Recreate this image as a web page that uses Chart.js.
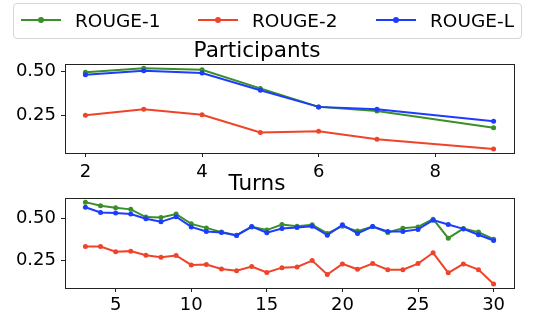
<!DOCTYPE html>
<html>
<head>
<meta charset="utf-8">
<script src="https://cdn.jsdelivr.net/npm/chart.js@4/dist/chart.umd.min.js"></script>
<style>
  body { margin: 0; background: #fff; font-family: 'DejaVu Sans', sans-serif; }
  #wrap { position: relative; width: 550px; height: 316px; overflow: hidden; }
  .cv { position: absolute; left: 0; }
  #legend {
    position: absolute; left: 13px; top: 3px; width: 507px; height: 34px;
    border: 1px solid #d6d6d6; border-radius: 4px; background: rgba(255,255,255,0.8);
    font-size: 18.5px; color: #000;
  }
  .item { position: absolute; top: 0; height: 34px; line-height: 34px; white-space: nowrap; }
  .swatch { position: absolute; top: 15px; width: 40px; height: 2px; }
  .swatch i { position: absolute; left: 17px; top: -2px; width: 6px; height: 6px; border-radius: 50%; }
</style>
</head>
<body>
<div id="wrap">
  <canvas id="partChart" class="cv" style="top:30px" width="550" height="150"></canvas>
  <canvas id="turnChart" class="cv" style="top:160px" width="550" height="156"></canvas>
  <div id="legend"></div>
</div>
<script>
// series labels & colours
const SERIES     = ['ROUGE-1', 'ROUGE-2', 'ROUGE-L'];
const COLORS     = ['#3a8f2a', '#f0442a', '#1c3cff'];

// Participants subplot
const partX      = [2, 3, 4, 5, 6, 7, 9];
const partR1     = [0.494, 0.517, 0.508, 0.402, 0.297, 0.273, 0.179];
const partR2     = [0.250, 0.284, 0.252, 0.152, 0.158, 0.113, 0.058];
const partRL     = [0.479, 0.502, 0.489, 0.391, 0.297, 0.284, 0.216];
const partXTicks = [2, 4, 6, 8];
const partYTicks = [0.25, 0.50];

// Turns subplot
const turnX      = [3, 4, 5, 6, 7, 8, 9, 10, 11, 12, 13, 14, 15, 16, 17, 18, 19, 20, 21, 22, 23, 24, 25, 26, 27, 28, 29, 30];
const turnR1     = [0.597, 0.575, 0.563, 0.554, 0.508, 0.506, 0.526, 0.468, 0.444, 0.419, 0.401, 0.450, 0.431, 0.464,
                    0.454, 0.462, 0.411, 0.454, 0.425, 0.452, 0.417, 0.442, 0.450, 0.496, 0.383, 0.440, 0.419, 0.377];
const turnR2     = [0.333, 0.333, 0.302, 0.306, 0.282, 0.270, 0.280, 0.224, 0.226, 0.200, 0.189, 0.214, 0.179, 0.208,
                    0.212, 0.250, 0.167, 0.230, 0.198, 0.232, 0.196, 0.196, 0.232, 0.296, 0.177, 0.230, 0.196, 0.111];
const turnRL     = [0.567, 0.536, 0.532, 0.526, 0.498, 0.480, 0.510, 0.450, 0.423, 0.417, 0.399, 0.452, 0.415, 0.440,
                    0.446, 0.454, 0.401, 0.462, 0.411, 0.452, 0.423, 0.423, 0.435, 0.490, 0.464, 0.438, 0.403, 0.369];
const turnXTicks = [5, 10, 15, 20, 25, 30];
const turnYTicks = [0.25, 0.50];

Chart.defaults.font.family = "'DejaVu Sans', sans-serif";
Chart.defaults.color = '#000';
Chart.defaults.animation = false;

// box around the plot area, like matplotlib spines
const frame = {
  id: 'frame',
  afterDraw(chart) {
    const { ctx, chartArea: a } = chart;
    ctx.save();
    ctx.strokeStyle = '#222';
    ctx.lineWidth = 1;
    ctx.strokeRect(Math.round(a.left) + 0.5, Math.round(a.top) + 0.5,
                   Math.round(a.right - a.left), Math.round(a.bottom - a.top));
    ctx.restore();
  }
};

function makeSets(ys) {
  // ROUGE-L on top, then ROUGE-2, ROUGE-1 at the bottom
  const order = [3, 2, 1];
  return SERIES.map((name, i) => ({
    label: name,
    data: ys[i],
    borderColor: COLORS[i],
    backgroundColor: COLORS[i],
    borderWidth: 2,
    pointRadius: 2.5,
    pointHoverRadius: 2.5,
    pointBorderWidth: 0,
    tension: 0,
    order: order[i],
  }));
}

function makeChart(id, title, xs, ys, xMin, xMax, xTicks, yMin, yMax, yTicks, opt) {
  return new Chart(document.getElementById(id), {
    type: 'line',
    data: {
      datasets: makeSets(ys).map(d => ({ ...d, data: d.data.map((v, k) => ({ x: xs[k], y: v })) })),
    },
    options: {
      responsive: false,
      layout: { padding: { top: opt.padTop, right: 36, bottom: 0, left: 0 } },
      plugins: {
        legend: { display: false },
        tooltip: { enabled: false },
        title: {
          display: true, text: title,
          font: { size: 21.6, weight: 'normal', lineHeight: 1.2 },
          padding: { top: 0, bottom: opt.titleGap },
          color: '#000',
        },
      },
      scales: {
        x: {
          type: 'linear', min: xMin, max: xMax,
          afterBuildTicks: s => { s.ticks = xTicks.map(v => ({ value: v })); },
          afterFit: s => { s.height = opt.xHeight; },
          ticks: { font: { size: 18 }, padding: opt.xPad, maxRotation: 0, callback: v => String(v) },
          grid: { drawOnChartArea: false, drawTicks: true, tickLength: 4, color: '#222' },
          border: { display: false },
        },
        y: {
          min: yMin, max: yMax,
          afterBuildTicks: s => { s.ticks = yTicks.map(v => ({ value: v })); },
          afterFit: s => { s.width = 65; },
          ticks: { font: { size: 18 }, padding: 5, callback: v => v.toFixed(2) },
          grid: { drawOnChartArea: false, drawTicks: true, tickLength: 4, color: '#222' },
          border: { display: false },
        },
      },
    },
    plugins: [frame],
  });
}

makeChart('partChart', 'Participants', partX, [partR1, partR2, partRL],
  1.65, 9.35, partXTicks, 0.035, 0.541, partYTicks,
  { padTop: 8, titleGap: 0, xHeight: 27, xPad: 5 });

makeChart('turnChart', 'Turns', turnX, [turnR1, turnR2, turnRL],
  1.65, 31.35, turnXTicks, 0.087, 0.622, turnYTicks,
  { padTop: 11, titleGap: 1, xHeight: 28, xPad: 3 });

// legend (matplotlib-style box above the plots)
const legendPos = [{ line: 7, text: 61 }, { line: 184, text: 238 }, { line: 362, text: 416 }];
const legend = document.getElementById('legend');
SERIES.forEach((name, i) => {
  legend.insertAdjacentHTML('beforeend',
    `<div class="swatch" style="left:${legendPos[i].line}px;background:${COLORS[i]}"><i style="background:${COLORS[i]}"></i></div>` +
    `<div class="item" style="left:${legendPos[i].text}px">${name}</div>`);
});
</script>
</body>
</html>
